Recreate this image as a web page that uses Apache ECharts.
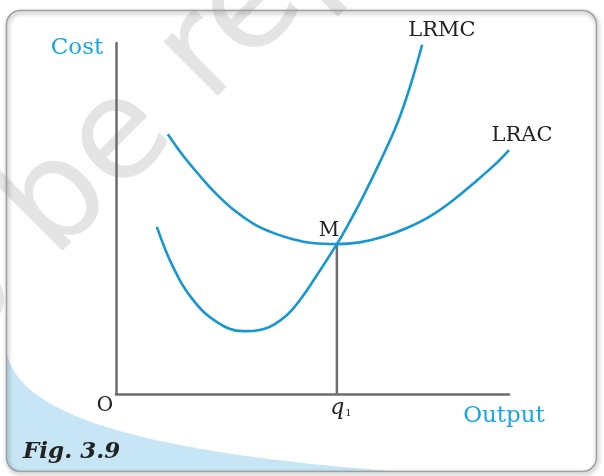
<!DOCTYPE html>
<html>
<head>
<meta charset="utf-8">
<script src="https://cdn.jsdelivr.net/npm/echarts@6/dist/echarts.min.js"></script>
<style>
html,body{margin:0;padding:0;background:#fff;}
#chart{width:604px;height:476px;}
</style>
</head>
<body>
<div id="chart"></div>
<script>
// Data (x: output, y: cost; both on 0..100 scales)
const lracX = [13.2, 17, 21, 25, 30, 35, 40, 45, 50, 56.2, 62, 68, 74, 80, 86, 92, 97, 100];
const lracY = [74.0, 68.0, 62.6, 57.6, 52.4, 48.5, 45.9, 44.1, 43.0, 42.7, 43.2, 44.8, 47.3, 50.7, 55.4, 61.0, 66.0, 69.5];
const lrmcX = [10.4, 14.5, 19.6, 25.7, 32.3, 38.4, 43.5, 46.8, 50.1, 56.2, 58.8, 62.8, 67.2, 71.5, 74.8, 77.9];
const lrmcY = [47.6, 36.2, 26.8, 20.5, 17.9, 18.8, 22.5, 26.8, 32.1, 42.7, 47.7, 56.1, 66.2, 76.9, 87.5, 99.5];
const q1 = 56.2;
const costAtM = 42.7;

const zip = (xs, ys) => xs.map((x, i) => [x, ys[i]]);

const blue = '#1697d0';
const axisGray = '#6d6d6d';
const serif = '"DejaVu Serif", serif';

// decorative swoosh outline (bezier sampled)
function swooshPoints() {
  const p0 = [7, 354], p1 = [20, 410], p2 = [120, 450], p3 = [390, 471];
  const pts = [];
  for (let i = 0; i <= 60; i++) {
    const t = i / 60, u = 1 - t;
    pts.push([
      u*u*u*p0[0] + 3*u*u*t*p1[0] + 3*u*t*t*p2[0] + t*t*t*p3[0],
      u*u*u*p0[1] + 3*u*u*t*p1[1] + 3*u*t*t*p2[1] + t*t*t*p3[1]
    ]);
  }
  for (let i = 0; i <= 10; i++) {
    const a = Math.PI / 2 + (Math.PI / 2) * i / 10;
    pts.push([17 + 10 * Math.cos(a), 461 + 10 * Math.sin(a)]);
  }
  return pts;
}

const chart = echarts.init(document.getElementById('chart'), null, {renderer: 'canvas'});
chart.setOption({
  backgroundColor: '#ffffff',
  animation: false,
  grid: {left: 116, right: 95, top: 43, bottom: 82},
  xAxis: {
    type: 'value', min: 0, max: 100, z: 5,
    axisLine: {show: true, onZero: false, lineStyle: {color: axisGray, width: 2.5}},
    axisTick: {show: false}, axisLabel: {show: false}, splitLine: {show: false}
  },
  yAxis: {
    type: 'value', min: 0, max: 100, z: 5,
    axisLine: {show: true, onZero: false, lineStyle: {color: axisGray, width: 2.5}},
    axisTick: {show: false}, axisLabel: {show: false}, splitLine: {show: false}
  },
  series: [
    {
      name: 'LRAC', type: 'line', data: zip(lracX, lracY), smooth: 0.4,
      showSymbol: false, clip: false, z: 6,
      lineStyle: {color: blue, width: 2.6}
    },
    {
      name: 'LRMC', type: 'line', data: zip(lrmcX, lrmcY), smooth: 0.4,
      showSymbol: false, clip: false, z: 6,
      lineStyle: {color: blue, width: 2.6}
    },
    {
      name: 'q1', type: 'line', data: [[q1, 0], [q1, costAtM]],
      showSymbol: false, clip: false, z: 5,
      lineStyle: {color: axisGray, width: 2.5}
    }
  ],
  graphic: [
    // watermark
    {
      type: 'text', x: -103, y: 365, rotation: Math.PI / 4, z: 0, silent: true,
      style: {text: 'to be republished', font: '140px "DejaVu Sans"', fill: '#e4e4e4',
              align: 'left', verticalAlign: 'middle'}
    },
    // swoosh
    {
      type: 'polygon', z: 1, silent: true,
      shape: {points: swooshPoints()},
      style: {fill: '#c6e6f6'}
    },
    // border
    {
      type: 'rect', z: 2, silent: true,
      shape: {x: 6.5, y: 10.5, width: 590, height: 461, r: 14},
      style: {fill: 'none', stroke: '#a0a0a0', lineWidth: 1.5,
              shadowBlur: 4, shadowColor: 'rgba(0,0,0,0.45)', shadowOffsetX: 1, shadowOffsetY: 2}
    },
    {type: 'text', x: 77, y: 48, z: 10, style: {text: 'Cost', font: '23px ' + serif, fill: '#1aa8df', align: 'center', verticalAlign: 'middle'}},
    {type: 'text', x: 504, y: 416, z: 10, style: {text: 'Output', font: '23px ' + serif, fill: '#1aa8df', align: 'center', verticalAlign: 'middle'}},
    {type: 'text', x: 442, y: 31, z: 10, style: {text: 'LRMC', font: '21px ' + serif, fill: '#222', align: 'center', verticalAlign: 'middle'}},
    {type: 'text', x: 522, y: 136, z: 10, style: {text: 'LRAC', font: '21px ' + serif, fill: '#222', align: 'center', verticalAlign: 'middle'}},
    {type: 'text', x: 329, y: 231, z: 10, style: {text: 'M', font: '20px ' + serif, fill: '#222', align: 'center', verticalAlign: 'middle'}},
    {type: 'text', x: 105, y: 406, z: 10, style: {text: 'O', font: '20px ' + serif, fill: '#222', align: 'center', verticalAlign: 'middle'}},
    {type: 'text', x: 341, y: 408, z: 10, style: {
      text: '{q|q}{s|1}', align: 'center', verticalAlign: 'middle',
      rich: {
        q: {font: 'italic 22px ' + serif, fill: '#222'},
        s: {font: '10px ' + serif, fill: '#222', padding: [10, 0, 0, 1]}
      }
    }},
    {type: 'text', x: 23, y: 452, z: 10, style: {text: 'Fig. 3.9', font: 'italic bold 23px ' + serif, fill: '#222', align: 'left', verticalAlign: 'middle'}}
  ]
});
</script>
</body>
</html>
